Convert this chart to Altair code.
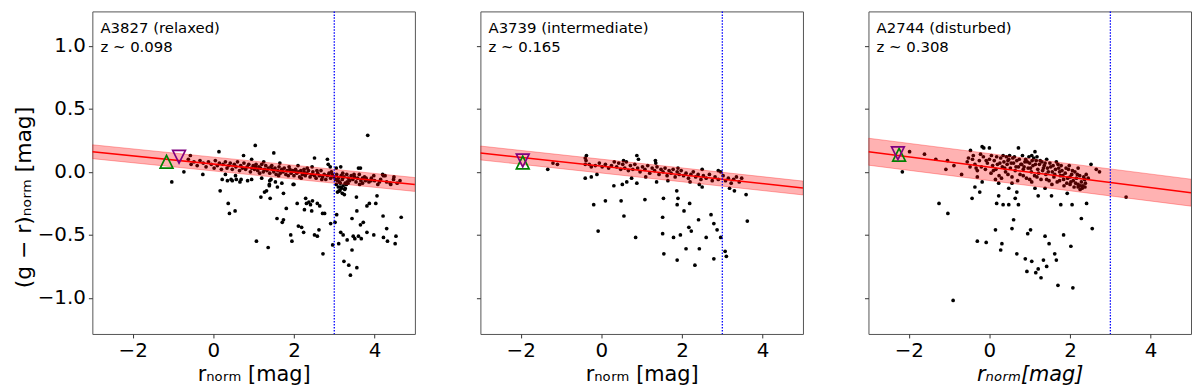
import altair as alt
import pandas as pd

# ---------------- data ----------------
X_DOMAIN = [-3, 5]
Y_DOMAIN = [-1.286, 1.273]
X_TICKS = [-2, 0, 2, 4]
Y_TICKS = [-1.0, -0.5, 0.0, 0.5, 1.0]

cluster_names = ["A3827 (relaxed)", "A3739 (intermediate)", "A2744 (disturbed)"]
redshift_labels = ["z ~ 0.098", "z ~ 0.165", "z ~ 0.308"]
label_x = -2.80
label_y = [1.10, 0.95]

fit_x = [-3, 5]
fit_y = [[0.16, -0.10], [0.15, -0.128], [0.16, -0.165]]
band_half = [0.055, 0.055, 0.107]
cut_x = [3.0, 3.0, 3.0]

up_tri = [(-1.16, 0.08), (-1.95, 0.075), (-2.24, 0.136)]
down_tri = [(-0.85, 0.12), (-1.95, 0.09), (-2.27, 0.147)]

p1_pts = [
    (-1.03, -0.08), (-0.73, 0.00), (-0.26, -0.02), (0.17, -0.15), (0.37, -0.25), (0.40, -0.33), (0.54, -0.31),
    (1.04, 0.21), (1.50, 0.15), (0.14, 0.16), (0.75, 0.13), (3.83, 0.29), (2.83, 0.10), (2.51, 0.11), (3.16, 0.04),
    (-0.57, 0.13), (1.07, -0.55), (1.36, -0.60), (1.18, -0.20), (1.27, -0.16), (1.32, -0.15), (1.41, -0.21),
    (1.39, -0.10), (1.43, -0.06), (1.54, -0.08), (1.59, -0.12), (1.74, -0.17), (1.81, -0.29), (1.58, -0.37),
    (1.71, -0.40), (1.74, -0.38), (1.92, -0.50), (1.95, -0.55), (1.98, -0.10), (2.08, -0.25), (2.19, -0.44),
    (2.24, -0.48), (2.11, -0.43), (2.29, -0.21), (2.31, -0.25), (2.26, -0.30), (2.37, -0.24), (2.41, -0.26),
    (2.46, -0.23), (2.58, -0.25), (2.64, -0.27), (2.44, -0.31), (2.51, -0.50), (2.58, -0.51), (2.62, -0.46),
    (2.71, -0.33), (2.76, -0.33), (2.72, -0.65), (2.91, -0.41), (2.96, -0.58), (3.02, -0.40), (3.06, -0.34),
    (3.11, -0.57), (3.16, -0.48), (3.22, -0.50), (3.24, -0.71), (3.32, -0.54), (3.36, -0.74), (3.40, -0.82),
    (3.44, -0.62), (3.44, -0.37), (3.47, -0.51), (3.51, -0.53), (3.56, -0.76), (3.56, -0.31), (3.60, -0.51),
    (3.65, -0.42), (3.67, -0.53), (3.72, -0.40), (3.81, -0.48), (3.81, -0.27), (3.87, -0.25), (4.03, -0.25),
    (4.06, -0.19), (3.98, -0.50), (4.21, -0.35), (4.22, -0.52), (4.30, -0.45), (4.32, -0.55), (4.51, -0.57),
    (4.53, -0.51), (4.66, -0.36), (3.27, -0.13), (3.15, -0.12), (3.14, -0.15), (3.32, -0.08), (3.55, -0.20),
    (3.70, -0.05), (3.65, 0.03), (2.25, 0.02), (2.00, -0.10), (0.69, -0.06), (0.57, -0.06), (0.44, -0.06),
    (0.85, -0.07), (0.22, -0.06), (0.35, -0.07), (0.47, -0.07), (0.66, -0.08), (1.39, -0.11),
    (-0.62, 0.10), (-0.55, 0.06), (-0.48, 0.08), (-0.40, 0.05), (-0.33, 0.09), (-0.25, 0.07), (-0.18, 0.04),
    (-0.12, 0.08), (-0.05, 0.06), (0.02, 0.03), (0.05, 0.09), (0.10, 0.05), (0.15, 0.07), (0.20, 0.02),
    (0.24, 0.06), (0.30, 0.08), (0.34, 0.03), (0.38, 0.05), (0.42, 0.07), (0.47, 0.02), (0.52, 0.06),
    (0.56, 0.04), (0.60, 0.08), (0.65, 0.01), (0.68, 0.05), (0.72, 0.03), (0.76, 0.07), (0.80, 0.02),
    (0.84, 0.04), (0.88, 0.06), (0.92, 0.00), (0.95, 0.03), (0.99, 0.05), (1.02, 0.02), (1.06, 0.06),
    (1.10, 0.01), (1.13, 0.04), (1.17, 0.03), (1.20, 0.06), (1.24, 0.00), (1.27, 0.02), (1.30, 0.05),
    (1.33, 0.01), (1.36, 0.03), (1.40, -0.01), (1.43, 0.04), (1.46, 0.02), (1.50, 0.00), (1.53, 0.03),
    (1.56, -0.02), (1.60, 0.01), (1.63, 0.04), (1.66, -0.01), (1.70, 0.02), (1.73, 0.00), (1.76, 0.03),
    (1.80, -0.02), (1.83, 0.01), (1.86, -0.03), (1.90, 0.02), (1.93, -0.01), (1.97, 0.01), (2.00, -0.03),
    (2.04, 0.02), (2.07, -0.01), (2.10, 0.00), (2.14, -0.04), (2.17, 0.01), (2.21, -0.02), (2.25, 0.00),
    (2.28, -0.03), (2.32, -0.01), (2.36, 0.01), (2.40, -0.04), (2.44, -0.02), (2.47, 0.00), (2.51, -0.03),
    (2.55, -0.05), (2.59, -0.01), (2.63, -0.03), (2.67, 0.01), (2.71, -0.04), (2.75, -0.02), (2.79, -0.06),
    (2.83, -0.03), (2.87, -0.01), (2.91, -0.05), (2.95, -0.02), (2.99, -0.04), (3.03, -0.06), (3.06, -0.02),
    (3.10, -0.05), (3.13, -0.08), (3.17, -0.03), (3.20, -0.06), (3.24, -0.04), (3.27, -0.09), (3.31, -0.02),
    (3.35, -0.05), (3.38, -0.07), (3.42, -0.03), (3.46, -0.06), (3.50, -0.04), (3.54, -0.08), (3.58, -0.05),
    (3.62, -0.02), (3.66, -0.07), (3.70, -0.09), (3.75, -0.04), (3.80, -0.06), (3.86, -0.08), (3.92, -0.05),
    (4.00, -0.07), (4.08, -0.10), (4.15, -0.06), (4.22, -0.03), (4.30, -0.08), (4.40, -0.10), (4.48, -0.04),
    (4.56, -0.09), (3.05, -0.10), (3.10, -0.12), (3.15, -0.09), (3.18, -0.13), (3.22, -0.11), (3.26, -0.14),
    (3.12, -0.15), (3.30, -0.10), (0.95, 0.10), (1.25, 0.08), (1.65, 0.07), (2.10, 0.05), (2.45, 0.04),
    (2.85, 0.06), (3.05, 0.03), (3.60, 0.03), (4.20, -0.02), (2.90, 0.04), (0.55, -0.03), (0.95, -0.06),
    (1.20, -0.05), (1.40, -0.07), (1.70, -0.09), (0.30, -0.02), (4.26, -0.03), (4.39, -0.09), (4.63, -0.07),
    (4.47, -0.06), (3.79, -0.05), (3.91, -0.07), (3.98, -0.03),
    (1.05, 0.04), (1.15, -0.01), (1.45, 0.05), (1.62, -0.03), (1.88, 0.04), (2.02, 0.01), (2.18, -0.05),
    (2.33, 0.03), (2.57, 0.01), (2.69, -0.06), (2.93, 0.00), (3.08, -0.07), (3.21, -0.01), (3.34, -0.09),
    (3.49, -0.02), (3.63, -0.10), (3.77, -0.07), (4.12, -0.08), (3.08, -0.16), (3.20, -0.17), (3.25, -0.18),
]

p2_pts = [
    (-1.33, 0.02), (-1.20, 0.07), (-1.09, 0.06), (-0.40, 0.11), (-0.37, 0.13), (-0.40, 0.06), (-0.40, -0.05),
    (-0.25, -0.04), (-0.25, 0.04), (-0.11, -0.02), (-0.19, -0.26), (-0.08, -0.47), (0.10, -0.23), (0.31, -0.11),
    (0.49, -0.23), (0.52, -0.10), (0.56, -0.35), (0.63, -0.08), (0.85, -0.52), (0.88, -0.09), (0.88, 0.13),
    (0.92, 0.10), (1.08, -0.22), (1.34, 0.09), (1.37, -0.08), (1.54, -0.21), (1.52, -0.36), (1.52, -0.49),
    (1.55, -0.65), (1.79, -0.52), (1.87, -0.15), (1.90, -0.21), (1.88, -0.26), (1.88, -0.70), (1.96, -0.50),
    (2.05, -0.31), (2.10, -0.61), (2.17, -0.44), (2.19, -0.25), (2.23, -0.47), (2.32, -0.74), (2.41, -0.38),
    (2.43, -0.61), (2.60, -0.52), (2.72, -0.34), (2.79, -0.41), (2.79, -0.69), (2.87, -0.46), (2.96, -0.52),
    (3.07, -0.63), (3.10, -0.67), (3.59, -0.18), (3.62, -0.39), (3.30, -0.15), (3.18, -0.13), (2.50, -0.12),
    (2.43, -0.10),
    (-0.38, 0.09), (-0.30, 0.06), (-0.15, 0.05), (-0.05, 0.07), (0.02, 0.04), (0.10, 0.06), (0.18, 0.03),
    (0.25, 0.05), (0.32, 0.08), (0.38, 0.04), (0.43, 0.07), (0.48, 0.02), (0.53, 0.06), (0.58, 0.03),
    (0.62, 0.08), (0.67, 0.01), (0.72, 0.05), (0.78, 0.02), (0.83, 0.06), (0.90, 0.03), (0.96, 0.00),
    (1.02, 0.04), (1.08, 0.02), (1.15, 0.05), (1.20, -0.01), (1.26, 0.03), (1.32, 0.01), (1.38, 0.04),
    (1.43, -0.02), (1.48, 0.02), (1.53, 0.00), (1.58, 0.03), (1.63, -0.03), (1.68, 0.01), (1.73, -0.01),
    (1.78, 0.02), (1.83, -0.04), (1.88, 0.00), (1.93, -0.02), (1.98, 0.01), (2.04, -0.03), (2.10, -0.01),
    (2.16, -0.05), (2.22, -0.02), (2.28, 0.00), (2.34, -0.04), (2.40, -0.02), (2.47, -0.06), (2.53, -0.03),
    (2.60, -0.05), (2.68, -0.02), (2.75, -0.07), (2.82, -0.04), (2.90, -0.06), (2.96, 0.00), (3.02, -0.03),
    (3.08, -0.07), (3.15, -0.05), (3.22, -0.09), (3.28, -0.06), (3.35, -0.04), (3.42, -0.08), (3.48, -0.05),
    (1.35, 0.07), (0.55, 0.09), (2.50, 0.02), (2.90, 0.01), (1.90, 0.03), (1.65, -0.07), (2.20, -0.08),
    (0.75, -0.05), (1.10, -0.04),
]

p3_pts = [
    (-2.16, 0.00), (-1.98, 0.16), (-1.61, 0.14), (-1.33, 0.10), (-1.08, 0.02), (-1.04, 0.09), (-1.25, -0.25),
    (-1.03, -0.33), (-0.88, 0.05), (-0.69, -0.02), (-0.90, -1.02), (-0.43, -0.21), (-0.36, -0.12),
    (-0.30, -0.55), (-0.24, -0.16), (-0.18, -0.08), (-0.08, -0.56), (0.15, -0.46), (0.18, -0.25),
    (0.23, -0.19), (0.28, -0.62), (0.31, -0.57), (0.34, -0.26), (0.48, -0.26), (0.56, -0.45), (0.60, -0.38),
    (0.64, -0.21), (0.68, -0.65), (0.72, -0.26), (0.89, -0.69), (0.93, -0.79), (0.95, -0.49), (1.02, -0.46),
    (1.05, -0.71), (1.15, -0.80), (1.21, -0.77), (1.28, -0.84), (1.34, -0.70), (1.38, -0.51), (1.42, -0.75),
    (1.48, -0.57), (1.54, -0.19), (1.62, -0.65), (1.66, -0.70), (1.70, -0.90), (1.77, -0.26), (1.84, -0.50),
    (2.02, -0.59), (2.05, -0.26), (2.07, -0.92), (2.28, -0.37), (2.41, -0.25), (2.55, -0.45), (3.39, -0.20),
    (1.05, -0.08), (1.21, -0.19), (1.13, -0.13), (1.38, -0.13), (0.68, -0.16), (0.48, -0.13), (0.23, -0.09),
    (0.56, -0.09), (1.93, -0.17), (2.20, -0.12), (2.38, -0.09), (2.52, 0.06), (2.65, 0.02), (2.73, 0.00),
    (-0.18, 0.20), (0.00, 0.19), (-0.14, 0.19), (0.72, 0.19), (1.13, 0.16), (1.05, 0.13), (-0.47, 0.17),
    (-0.55, 0.08), (-0.48, 0.04), (-0.42, 0.10), (-0.36, 0.06), (-0.30, 0.01), (-0.25, 0.09), (-0.20, 0.04),
    (-0.15, 0.12), (-0.10, 0.02), (-0.05, 0.07), (0.00, 0.10), (0.04, -0.01), (0.08, 0.05), (0.12, 0.09),
    (0.16, 0.02), (0.20, 0.06), (0.24, -0.03), (0.28, 0.11), (0.32, 0.04), (0.36, 0.08), (0.40, 0.00),
    (0.44, 0.06), (0.48, 0.10), (0.52, 0.03), (0.56, -0.04), (0.60, 0.07), (0.64, 0.01), (0.68, 0.09),
    (0.72, 0.04), (0.76, -0.02), (0.80, 0.06), (0.84, 0.02), (0.88, 0.08), (0.92, -0.05), (0.96, 0.03),
    (1.00, 0.07), (1.04, 0.00), (1.08, 0.05), (1.12, -0.03), (1.16, 0.09), (1.20, 0.02), (1.24, 0.06),
    (1.28, -0.06), (1.32, 0.01), (1.36, 0.05), (1.40, -0.02), (1.44, 0.03), (1.48, -0.07), (1.52, 0.04),
    (1.56, 0.00), (1.60, -0.04), (1.64, 0.02), (1.68, -0.08), (1.72, 0.03), (1.76, -0.03), (1.80, 0.01),
    (1.84, -0.06), (1.88, -0.01), (1.92, -0.09), (1.96, 0.02), (2.00, -0.04), (2.04, -0.02), (2.08, -0.07),
    (2.12, 0.00), (2.16, -0.05), (2.20, -0.10), (2.24, -0.03), (2.28, -0.08), (2.32, -0.11), (2.36, -0.06),
    (2.40, -0.02), (0.42, 0.12), (0.58, 0.11), (0.90, 0.10), (1.10, 0.11), (1.30, 0.08), (0.30, -0.05),
    (0.70, -0.07), (1.00, -0.06), (1.55, -0.10), (1.85, -0.11), (2.10, -0.12), (2.30, -0.13), (2.20, 0.03),
    (1.70, 0.06), (2.45, -0.05), (0.15, -0.06), (-0.30, -0.04),
    (-0.52, 0.11), (-0.40, 0.13), (-0.33, 0.03), (-0.22, 0.14), (-0.08, 0.09), (0.05, 0.13), (0.10, 0.01),
    (0.18, 0.12), (0.26, 0.07), (0.34, 0.13), (0.38, 0.03), (0.46, 0.09), (0.50, 0.13), (0.54, 0.07),
    (0.62, 0.12), (0.66, 0.04), (0.74, 0.10), (0.78, 0.06), (0.82, 0.13), (0.86, 0.04), (0.94, 0.08),
    (0.98, 0.12), (1.02, 0.03), (1.06, 0.09), (1.14, 0.06), (1.18, 0.12), (1.22, -0.01), (1.26, 0.09),
    (1.34, 0.03), (1.38, 0.07), (1.42, 0.10), (1.46, 0.00), (1.50, 0.07), (1.58, 0.05), (1.62, -0.02),
    (1.66, 0.08), (1.74, 0.00), (1.78, 0.05), (1.82, -0.03), (1.90, 0.03), (1.94, -0.05), (1.98, 0.05),
    (2.02, -0.08), (2.06, 0.01), (2.14, -0.09), (2.18, -0.02), (2.26, -0.11), (2.34, -0.04), (0.46, -0.02),
    (0.84, -0.03), (1.18, -0.04), (1.42, -0.06), (1.74, -0.07), (2.00, -0.10), (2.25, -0.14), (2.37, -0.12),
]

all_points = [p1_pts, p2_pts, p3_pts]

FONT = "DejaVu Sans"
TRI_UP = "M0,-1L1,1L-1,1Z"
TRI_DOWN = "M0,1L1,-1L-1,-1Z"
W, H = 325, 325


def panel(i):
    pts = pd.DataFrame(all_points[i], columns=["r", "gr"])
    fit = pd.DataFrame({"r": fit_x, "gr": fit_y[i]})
    fit["lo"] = fit["gr"] - band_half[i]
    fit["hi"] = fit["gr"] + band_half[i]
    cut = pd.DataFrame({"r": [cut_x[i]]})
    up = pd.DataFrame([up_tri[i]], columns=["r", "gr"])
    down = pd.DataFrame([down_tri[i]], columns=["r", "gr"])
    lab = pd.DataFrame({"r": [label_x, label_x], "gr": label_y,
                        "t": [cluster_names[i], redshift_labels[i]]})

    if i < 2:
        xtitle = "rₙₒᵣₘ [mag]"
        xstyle = "normal"
    else:
        xtitle = "rₙₒᵣₘ[mag]"
        xstyle = "italic"

    xscale = alt.Scale(domain=X_DOMAIN, nice=False, zero=False)
    yscale = alt.Scale(domain=Y_DOMAIN, nice=False, zero=False)
    xaxis = alt.Axis(values=X_TICKS, format="d", title=xtitle, titleFontStyle=xstyle)
    if i == 0:
        yaxis = alt.Axis(values=Y_TICKS, format=".1f", title="(g − r)ₙₒᵣₘ [mag]",
                         titleFontSize=22, titleY=187)
    else:
        yaxis = alt.Axis(values=Y_TICKS, format=".1f", labels=False, title=None)

    X = alt.X("r:Q", scale=xscale, axis=xaxis)
    Y = alt.Y("gr:Q", scale=yscale, axis=yaxis)

    points = alt.Chart(pts).mark_circle(size=14, color="black", opacity=1).encode(x=X, y=Y)
    band = alt.Chart(fit).mark_area(fill="red", fillOpacity=0.3, stroke="red",
                                    strokeOpacity=0.3, strokeWidth=1, clip=True).encode(
        x=alt.X("r:Q", scale=xscale), y=alt.Y("lo:Q", scale=yscale), y2="hi:Q")
    line = alt.Chart(fit).mark_line(color="red", strokeWidth=1.6, clip=True).encode(
        x=alt.X("r:Q", scale=xscale), y=alt.Y("gr:Q", scale=yscale))
    rule = alt.Chart(cut).mark_rule(color="blue", strokeWidth=1.3, strokeDash=[1.5, 1.5]).encode(
        x=alt.X("r:Q", scale=xscale))
    tri_up = alt.Chart(up).mark_point(shape=TRI_UP, filled=False, size=165, color="green",
                                      strokeWidth=1.7, opacity=1).encode(
        x=alt.X("r:Q", scale=xscale), y=alt.Y("gr:Q", scale=yscale))
    tri_down = alt.Chart(down).mark_point(shape=TRI_DOWN, filled=False, size=165, color="purple",
                                          strokeWidth=1.7, opacity=1).encode(
        x=alt.X("r:Q", scale=xscale), y=alt.Y("gr:Q", scale=yscale))
    text = alt.Chart(lab).mark_text(align="left", baseline="alphabetic", fontSize=15,
                                    font=FONT, color="black").encode(
        x=alt.X("r:Q", scale=xscale), y=alt.Y("gr:Q", scale=yscale), text="t:N")

    return alt.layer(points, band, line, rule, tri_up, tri_down, text).properties(width=W, height=H)


chart = alt.hconcat(panel(0), panel(1), panel(2), spacing=60).properties(
    padding={"left": 3, "top": 0, "right": 0, "bottom": 0}
).configure_view(
    stroke="#555", strokeWidth=1
).configure_axis(
    grid=False, domain=False, ticks=True, tickSize=4, tickColor="#333", tickWidth=1,
    labelFont=FONT, labelFontSize=20, labelColor="black", labelPadding=3,
    titleFont=FONT, titleFontSize=21, titleFontWeight="normal", titleColor="black",
    labelFlush=False, labelOverlap=False,
).configure_axisX(titlePadding=3).configure_axisY(titlePadding=2)

chart.save("out.html", embed_options={"renderer": "svg", "actions": False})
